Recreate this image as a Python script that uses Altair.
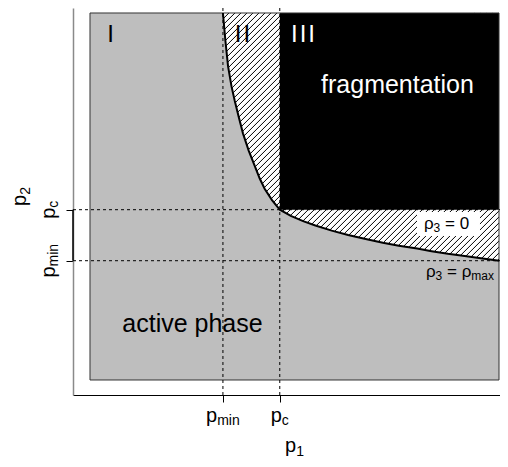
import altair as alt
import pandas as pd

# ---------------- values (shaded square = 0..1 on both axes)
p_min = 0.325
p_c = 0.464

curve_p1 = [0.325, 0.331, 0.3375, 0.346, 0.354, 0.364, 0.374, 0.388, 0.4025, 0.415,
            0.427, 0.445, 0.464, 0.491, 0.521, 0.551, 0.591, 0.631, 0.674, 0.716,
            0.755, 0.800, 0.835, 0.875, 0.916, 0.960, 1.000]
curve_p2 = [1.000, 0.925, 0.855, 0.800, 0.760, 0.715, 0.672, 0.625, 0.584, 0.549,
            0.521, 0.490, 0.464, 0.447, 0.433, 0.421, 0.407, 0.395, 0.384, 0.374,
            0.366, 0.358, 0.351, 0.344, 0.338, 0.331, 0.325]

region_names = ["I", "II", "III"]
phase_names = ["fragmentation", "active phase"]

# ---------------- layout / style
FONT = "Liberation Sans"
W, H = 427, 387
X_LO, X_HI = -0.04156, 1.00244
Y_LO, Y_HI = -0.0409, 1.0136
PX_X = W / (X_HI - X_LO)
PX_Y = H / (Y_HI - Y_LO)
GRAY = "#bebebe"

XS = alt.Scale(domain=[X_LO, X_HI], nice=False, zero=False)
YS = alt.Scale(domain=[Y_LO, Y_HI], nice=False, zero=False)
XA = alt.Axis(values=[p_min, p_c], labels=False, ticks=True, tickSize=7, tickColor="black",
              tickWidth=1, domainColor="black", domainWidth=1, grid=False, title=None)
YA = alt.Axis(values=[p_min, p_c], labels=False, ticks=True, tickSize=7, tickColor="black",
              tickWidth=1, domainColor="#8a8a8a", domainWidth=1.5, grid=False, title=None)


def X(f="x"):
    return alt.X(f, type="quantitative", scale=XS, axis=XA)


def Y(f="y"):
    return alt.Y(f, type="quantitative", scale=YS, axis=YA)


layers = []

# hatch lines (45 deg on screen) over the square [p_min,1]x[p_min,1]
slope = PX_X / PX_Y
step = 6.0 / PX_X
x0, x1, y0, y1 = p_min, 1.0, p_min, 1.0
hat = []
c = x0 - (y1 - y0) / slope
while c < x1:
    a = max(x0, c)
    b = min(x1, c + (y1 - y0) / slope)
    if b > a:
        hat.append({"x": a, "y": y0 + slope * (a - c), "x2": b, "y2": y0 + slope * (b - c)})
    c += step
layers.append(alt.Chart(pd.DataFrame(hat)).mark_rule(color="black", strokeWidth=1).encode(
    x=X(), y=Y(), x2="x2:Q", y2="y2:Q"))

# gray active region (below / left of curve)
area_df = pd.DataFrame({"x": [0.0] + curve_p1, "y": [1.0] + curve_p2})
area_df["base"] = 0.0
layers.append(alt.Chart(area_df).mark_area(color=GRAY, opacity=1).encode(
    x=X(), y=Y(), y2="base:Q"))

# black fragmentation region
layers.append(alt.Chart(pd.DataFrame({"x": [p_c], "x2": [1.0], "y": [p_c], "y2": [1.0]}))
              .mark_rect(color="black").encode(x=X(), x2="x2:Q", y=Y(), y2="y2:Q"))

# square border
layers.append(alt.Chart(pd.DataFrame({"x": [0.0], "x2": [1.0], "y": [0.0], "y2": [1.0]}))
              .mark_rect(fillOpacity=0, stroke="#333333", strokeWidth=1)
              .encode(x=X(), x2="x2:Q", y=Y(), y2="y2:Q"))

# white label box
layers.append(alt.Chart(pd.DataFrame({"x": [0.7995], "x2": [0.9535], "y": [0.3924], "y2": [0.4578]}))
              .mark_rect(color="white").encode(x=X(), x2="x2:Q", y=Y(), y2="y2:Q"))

# curve
layers.append(alt.Chart(pd.DataFrame({"x": curve_p1, "y": curve_p2})).mark_line(
    color="black", strokeWidth=2).encode(x=X(), y=Y()))

# dashed guide lines
dash_df = pd.DataFrame({
    "x": [p_min, p_c, X_LO, X_LO],
    "x2": [p_min, p_c, X_HI, X_HI],
    "y": [Y_LO, Y_LO, p_c, p_min],
    "y2": [Y_HI, Y_HI, p_c, p_min],
})
layers.append(alt.Chart(dash_df).mark_rule(color="black", strokeWidth=1, strokeDash=[3, 3])
              .encode(x=X(), x2="x2:Q", y=Y(), y2="y2:Q"))

# dark axis segment between the ticks on the left
layers.append(alt.Chart(pd.DataFrame({"x": [X_LO], "y": [p_min], "y2": [p_c]}))
              .mark_rule(color="black", strokeWidth=1.5).encode(x=X(), y=Y(), y2="y2:Q"))

# ---------------- text
CW = {"p": 556, "m": 833, "i": 222, "n": 556, "c": 500, "a": 556, "x": 500, "0": 556,
      "1": 556, "2": 556, "3": 556, "=": 584, " ": 278, "\u03c1": 570}


def tw(t, s):
    return sum(CW.get(ch, 556) for ch in t) * s / 1000.0


def composite(x, y, parts, dy=0.0, angle=0, color="black"):
    total = sum(tw(t, s) for t, s, sh in parts)
    off = -total / 2.0
    out = []
    for t, s, sh in parts:
        if t.strip():
            kw = dict(align="left", baseline="alphabetic", dx=off, dy=dy + sh, fontSize=s,
                      font=FONT, color=color)
            if angle:
                kw["angle"] = angle
            out.append(alt.Chart(pd.DataFrame({"x": [x], "y": [y], "t": [t]}))
                       .mark_text(**kw).encode(x=X(), y=Y(), text="t:N"))
        off += tw(t, s)
    return out


B, S = 20, 14
# bottom tick labels and title
layers += composite(p_min, Y_LO, [("p", B, 0), ("min", S, 3)], dy=27)
layers += composite(p_c, Y_LO, [("p", B, 0), ("c", S, 3)], dy=27)
layers += composite(0.5, Y_LO, [("p", B, 0), ("1", S, 4)], dy=57)
# left tick labels and title (rotated)
layers += composite(X_LO, p_c, [("p", B, 0), ("c", S, 3)], dy=-17.6, angle=270)
layers += composite(X_LO, p_min, [("p", B, 0), ("min", S, 3)], dy=-17.6, angle=270)
layers += composite(X_LO, 0.5, [("p", B, 0), ("2", S, 4)], dy=-47.5, angle=270)
# rho labels
R, RS = 17, 12
layers += composite(0.8716, 0.4114, [("\u03c1", R, 0), ("3", RS, 3), (" ", R, 0), ("= 0", R, 0)])
layers += composite(0.9046, 0.2807, [("\u03c1", R, 0), ("3", RS, 3), (" ", R, 0), ("=", R, 0),
                                      (" ", R, 0), ("\u03c1", R, 0), ("max", RS, 3)])

# region numerals
hs = "\u200a"
reg_df = pd.DataFrame({"x": [0.0506, 0.3729, 0.5208], "y": [0.9218] * 3,
                       "t": [hs.join(list(r)) for r in region_names],
                       "col": ["black", "black", "white"]})
layers.append(alt.Chart(reg_df).mark_text(align="center", baseline="alphabetic", fontSize=24,
                                          font=FONT).encode(
    x=X(), y=Y(), text="t:N", color=alt.Color("col:N", scale=None)))

ph_df = pd.DataFrame({"x": [0.7518, 0.2506], "y": [0.783, 0.1308], "t": phase_names,
                      "col": ["white", "black"]})
layers.append(alt.Chart(ph_df).mark_text(align="center", baseline="alphabetic", fontSize=25,
                                         font=FONT).encode(
    x=X(), y=Y(), text="t:N", color=alt.Color("col:N", scale=None)))

chart = alt.layer(*layers).properties(
    width=W, height=H,
    autosize=alt.AutoSizeParams(type="none"),
    padding={"left": 65, "top": 0, "right": 0, "bottom": 64},
).configure_view(stroke=None).configure_axis(grid=False)

chart.save("out.html", embed_options={"renderer": "svg", "actions": False})
